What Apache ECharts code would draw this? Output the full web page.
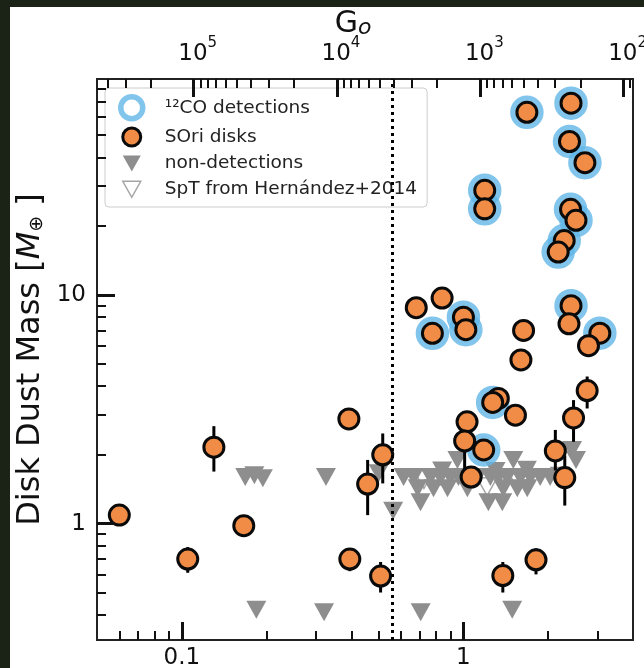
<!DOCTYPE html>
<html>
<head>
<meta charset="utf-8">
<script src="https://cdn.jsdelivr.net/npm/echarts@6/dist/echarts.min.js"></script>
<style>
html, body { margin: 0; padding: 0; background: #1a2315; }
#chart { position: absolute; left: 10px; top: 7px; width: 634px; height: 661px; background: #fff; }
</style>
</head>
<body>
<div id="chart"></div>
<script>
// SOri disks: projected distance to sigma Ori (pc) and disk dust mass (M_earth)
const diskDist = [0.060, 0.105, 0.130, 0.166, 0.392, 0.457, 0.517, 0.395, 0.508, 0.68,
  0.84, 0.776, 1.00, 1.02, 1.19, 1.19, 1.68, 2.41, 2.38, 2.70,
  2.40, 2.51, 2.28, 2.17, 1.635, 1.60, 2.41, 2.37, 3.05, 2.78,
  2.75, 2.46, 1.33, 1.27, 1.53, 1.03, 1.01, 1.18, 1.065, 2.12,
  2.29, 1.38, 1.81]
const diskMass = [1.09, 0.70, 2.16, 0.98, 2.87, 1.49, 2.00, 0.70, 0.59, 8.8,
  9.7, 6.8, 8.0, 7.05, 28.7, 23.8, 62.9, 69, 46.9, 37.9,
  23.7, 21.2, 17.3, 15.4, 7.0, 5.2, 8.98, 7.48, 6.81, 6.0,
  3.82, 2.90, 3.53, 3.39, 2.98, 2.79, 2.30, 2.10, 1.60, 2.08,
  1.59, 0.593, 0.695]
// error bars (null = none drawn)
const diskErrLo = [null, 0.61, 1.69, null, null, 1.09, 1.50, 0.62, 0.50, null,
  null, null, null, null, null, null, null, null, null, null,
  null, null, null, null, null, null, null, null, null, null,
  3.19, 2.28, null, null, 2.72, null, 1.71, null, null, 1.71,
  1.20, 0.50, 0.60]
const diskErrHi = [null, 0.79, 2.67, null, null, 1.90, 2.48, 0.78, 0.68, null,
  null, null, null, null, null, null, null, null, null, null,
  null, null, null, null, null, null, null, null, null, null,
  4.40, 3.47, null, null, 3.22, null, 2.60, null, null, 2.57,
  1.99, 0.68, 0.78]
// 1 = 12CO detected
const diskCO = [0, 0, 0, 0, 0, 0, 0, 0, 0, 0,
  0, 1, 1, 1, 1, 1, 1, 1, 1, 1,
  1, 1, 1, 1, 0, 0, 1, 0, 1, 0,
  0, 0, 0, 1, 0, 0, 0, 1, 0, 0,
  0, 0, 0]

// non-detections (upper limits)
const nondetDist = [0.168, 0.181, 0.194, 0.325, 0.50, 0.563,
  0.184, 0.320, 0.705, 1.49,
  0.613, 0.666, 0.764, 0.829, 0.899, 0.960, 1.121, 1.246, 1.330, 1.431, 1.592, 1.727, 1.873, 2.031,
  0.688, 0.783, 0.878, 1.033, 1.385, 1.553, 1.685,
  0.84, 1.30, 1.68,
  0.704, 1.226, 1.374,
  0.952, 1.503, 2.51, 2.43, 2.20]
const nondetMass = [1.60, 1.63, 1.58, 1.60, 1.66, 1.14,
  0.42, 0.41, 0.41, 0.42,
  1.60, 1.60, 1.60, 1.60, 1.60, 1.60, 1.60, 1.60, 1.60, 1.60, 1.60, 1.60, 1.60, 1.60,
  1.43, 1.43, 1.43, 1.43, 1.43, 1.43, 1.43,
  1.71, 1.70, 1.72,
  1.24, 1.24, 1.24,
  1.90, 1.90, 1.90, 2.10, 1.62]

// SpT from Hernandez+2014
const sptDist = [0.724, 1.213, 1.55]
const sptMass = [1.56, 1.45, 1.57]

const ionFront = 0.56

// axis ranges and ticks
const xMin = 0.05, xMax = 4
const yMin = 0.31, yMax = 88
const g0Min = 86, g0Max = 473000
const xMajor = [0.1, 1]
const xMajorLabels = ['0.1', '1']
const yMajor = [1, 10]
const yMajorLabels = ['1', '10']
const g0Major = [1e5, 1e4, 1e3, 1e2]
const g0Exp = ['5', '4', '3', '2']
const minorOf = (decades) => decades.flatMap(d => [2, 3, 4, 5, 6, 7, 8, 9].map(m => m * d))
const inside = (v, lo, hi) => v > lo * 1.0001 && v < hi * 0.9999
const xMinor = minorOf([0.01, 0.1, 1]).filter(v => inside(v, xMin, xMax))
const yMinor = minorOf([0.1, 1, 10]).filter(v => inside(v, yMin, yMax))
const g0Minor = minorOf([10, 100, 1000, 1e4, 1e5]).filter(v => inside(v, g0Min, g0Max))

const lg = Math.log10
const FONT = 'DejaVu Sans'
const INK = '#111'
const gridBox = { left: 87, right: 11, top: 72, bottom: 28, outerBoundsMode: 'none', containLabel: false }

// tick-only axis living in log10 space
const tickAxis = (grid, pos, lo, hi, ticks, len, width, inverse, extra) => Object.assign({
  type: 'value',
  gridIndex: grid,
  position: pos,
  z: 6,
  min: lg(lo),
  max: lg(hi),
  inverse: !!inverse,
  axisLine: { show: false, onZero: false },
  axisTick: { show: true, inside: true, length: len, customValues: ticks.map(lg), lineStyle: { color: INK, width: width } },
  axisLabel: { show: false },
  splitLine: { show: false }
}, extra || {})

const coIdx = diskCO.map((c, i) => c ? i : -1).filter(i => i >= 0)
const errData = diskErrLo.map((lo, i) => lo == null ? null : [diskDist[i], lo, diskErrHi[i]]).filter(d => d)

const ringIcon = 'path://M0,0M24,24M1,12A11,11,0,1,1,23,12A11,11,0,1,1,1,12Z'
const dotIcon = 'path://M0,0M24,24M3,12A9,9,0,1,1,21,12A9,9,0,1,1,3,12Z'
const triIcon = 'path://M0,0M24,24M3,4L21,4L12,20Z'
const triSymbol = 'path://M0,0L18,0L9,16Z'

const chart = echarts.init(document.getElementById('chart'))

const option = {
  animation: false,
  textStyle: { fontFamily: FONT },
  grid: [
    Object.assign({ show: true, borderColor: '#222', borderWidth: 2, backgroundColor: 'transparent' }, gridBox),
    Object.assign({}, gridBox),
    Object.assign({}, gridBox)
  ],
  legend: {
    orient: 'vertical',
    left: 95,
    top: 81,
    padding: [5, 10, 5, 12],
    itemWidth: 24,
    itemHeight: 24,
    itemGap: 1,
    selectedMode: false,
    backgroundColor: 'rgba(255,255,255,0.8)',
    borderColor: '#cccccc',
    borderWidth: 1,
    borderRadius: 4,
    itemStyle: { borderWidth: 'inherit' },
    textStyle: { fontFamily: FONT, fontSize: 18.5, color: '#222', padding: [0, 0, 0, 16] },
    data: [
      { name: '¹²CO detections', icon: ringIcon },
      { name: 'SOri disks', icon: dotIcon },
      { name: 'non-detections', icon: triIcon },
      { name: 'SpT from Hernández+2014', icon: triIcon }
    ]
  },
  xAxis: [
    { type: 'log', logBase: 10, gridIndex: 0, min: xMin, max: xMax, position: 'bottom', show: false },
    tickAxis(1, 'bottom', xMin, xMax, xMajor, 18, 3, false, {
      axisLabel: {
        show: true, customValues: xMajor.map(lg), margin: 7, color: INK, fontSize: 23, fontFamily: FONT,
        formatter: v => xMajorLabels[xMajor.findIndex(t => Math.abs(lg(t) - v) < 1e-6)]
      }
    }),
    tickAxis(1, 'top', g0Min, g0Max, g0Major, 18, 3, true, {
      name: '{g|G}{o|o}',
      nameLocation: 'middle',
      nameGap: 40,
      nameMoveOverlap: false,
      nameTextStyle: {
        color: INK,
        padding: [0, 24, 0, 0],
        rich: {
          g: { fontSize: 30, lineHeight: 34, verticalAlign: 'bottom', fontFamily: FONT, color: INK },
          o: { fontSize: 22, lineHeight: 25, verticalAlign: 'bottom', fontStyle: 'italic', fontFamily: FONT, color: INK }
        }
      },
      axisLabel: {
        show: true, customValues: g0Major.map(lg), margin: 13, color: INK,
        padding: [0, 0, 0, 8],
        formatter: v => '{b|10}{s|' + g0Exp[g0Major.findIndex(t => Math.abs(lg(t) - v) < 1e-6)] + '}',
        rich: {
          b: { fontSize: 23, lineHeight: 30, verticalAlign: 'bottom', fontFamily: FONT, color: INK },
          s: { fontSize: 15, lineHeight: 18, verticalAlign: 'top', fontFamily: FONT, color: INK }
        }
      }
    }),
    tickAxis(2, 'bottom', xMin, xMax, xMinor, 9, 2),
    tickAxis(2, 'top', g0Min, g0Max, g0Minor, 9, 2, true)
  ],
  yAxis: [
    { type: 'log', logBase: 10, gridIndex: 0, min: yMin, max: yMax, position: 'left', show: false },
    tickAxis(1, 'left', yMin, yMax, yMajor, 18, 3, false, {
      name: 'Disk Dust Mass [{i|M}{s|⊕} ]',
      nameLocation: 'middle',
      nameRotate: 90,
      nameGap: 50,
      nameMoveOverlap: false,
      nameTextStyle: {
        color: INK, fontSize: 32, fontFamily: FONT,
        rich: {
          i: { fontSize: 32, fontStyle: 'italic', fontFamily: FONT, color: INK },
          s: { fontSize: 19, verticalAlign: 'bottom', lineHeight: 27, fontFamily: FONT, color: INK }
        }
      },
      axisLabel: {
        show: true, customValues: yMajor.map(lg), margin: 11, color: INK, fontSize: 23, fontFamily: FONT,
        formatter: v => yMajorLabels[yMajor.findIndex(t => Math.abs(lg(t) - v) < 1e-6)]
      }
    }),
    tickAxis(2, 'left', yMin, yMax, yMinor, 9, 2)
  ],
  series: [
    {
      name: 'SpT from Hernández+2014',
      type: 'scatter',
      z: 1,
      symbol: triSymbol,
      symbolSize: [20, 18],
      itemStyle: { color: '#ffffff', borderColor: '#8e8e8e', borderWidth: 1.5 },
      data: sptDist.map((d, i) => [d, sptMass[i]])
    },
    {
      name: 'non-detections',
      type: 'scatter',
      z: 1,
      symbol: triSymbol,
      symbolSize: [20, 18],
      itemStyle: { color: '#8e8e8e', opacity: 1 },
      data: nondetDist.map((d, i) => [d, nondetMass[i]])
    },
    {
      name: '¹²CO detections',
      type: 'scatter',
      z: 2,
      symbol: 'circle',
      symbolSize: 28,
      itemStyle: { color: 'rgba(255,255,255,0)', borderColor: '#62b6e7', borderWidth: 5.5 },
      data: coIdx.map(i => [diskDist[i], diskMass[i]]),
      markLine: {
        silent: true,
        symbol: ['none', 'none'],
        label: { show: false },
        lineStyle: { color: '#000', width: 3, type: [3, 4], cap: 'butt' },
        data: [{ xAxis: ionFront }]
      }
    },
    {
      type: 'custom',
      z: 3,
      silent: true,
      data: errData,
      encode: { x: 0, y: [1, 2] },
      renderItem: (params, api) => {
        const a = api.coord([api.value(0), api.value(1)])
        const b = api.coord([api.value(0), api.value(2)])
        return { type: 'line', shape: { x1: a[0], y1: a[1], x2: b[0], y2: b[1] }, style: { stroke: '#000', lineWidth: 3 } }
      }
    },
    {
      name: 'SOri disks',
      type: 'scatter',
      z: 4,
      symbol: 'circle',
      symbolSize: 20,
      itemStyle: { color: '#f08c46', borderColor: '#0a0a0a', borderWidth: 3, opacity: 1 },
      data: diskDist.map((d, i) => [d, diskMass[i]])
    }
  ]
}

chart.setOption(option)
window.addEventListener('resize', () => chart.resize())
</script>
</body>
</html>
